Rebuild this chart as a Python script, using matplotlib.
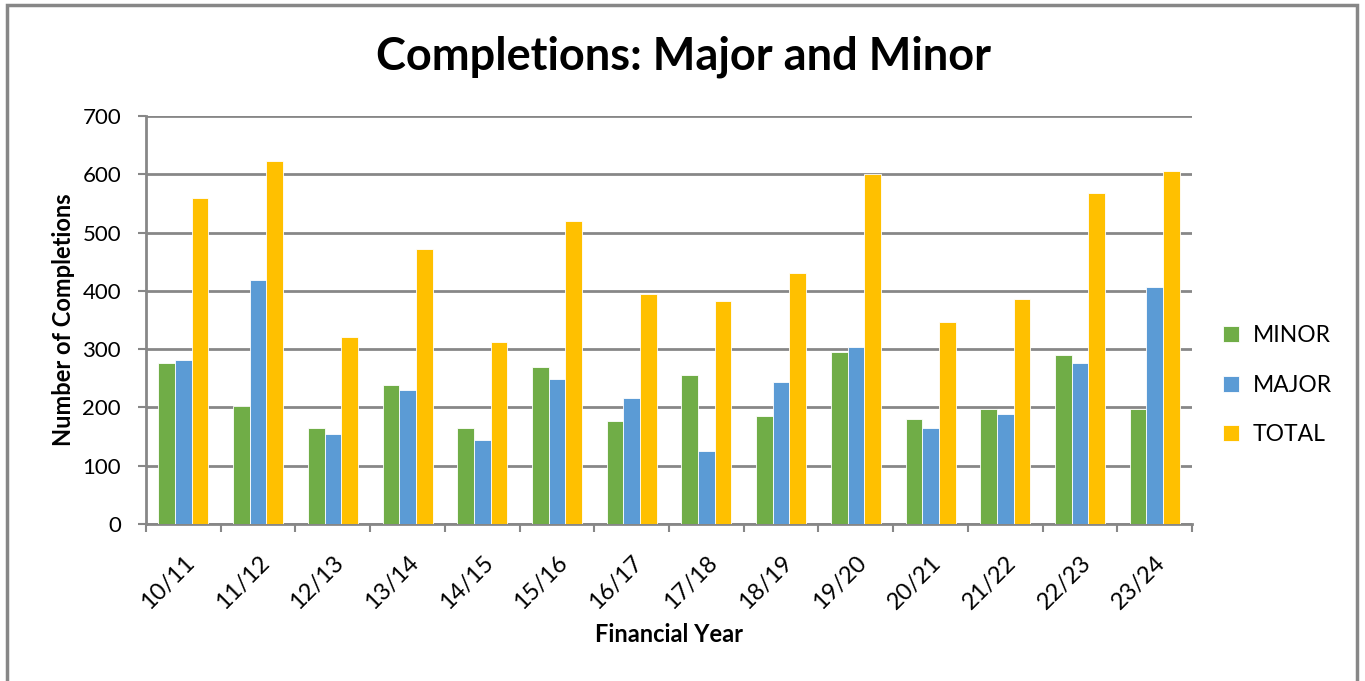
import numpy as np
import matplotlib
matplotlib.use("Agg")
import matplotlib.pyplot as plt
from matplotlib.patches import Rectangle

# Data
years = ["10/11", "11/12", "12/13", "13/14", "14/15", "15/16", "16/17",
         "17/18", "18/19", "19/20", "20/21", "21/22", "22/23", "23/24"]
minor = [277, 203, 165, 239, 165, 269, 177, 256, 186, 295, 180, 197, 290, 197]
major = [281, 419, 155, 230, 145, 249, 216, 126, 244, 303, 165, 189, 277, 407]
total = [559, 623, 321, 471, 313, 519, 394, 383, 431, 600, 346, 386, 568, 605]

series_names = ["MINOR", "MAJOR", "TOTAL"]
colors = ["#70AD47", "#5B9BD5", "#FFC000"]

plt.rcParams['font.family'] = ['Lato', 'DejaVu Sans']
grey = "#878787"

fig = plt.figure(figsize=(13.65, 6.81), dpi=100)
ax = fig.add_axes([0.107, 0.2305, 0.7663, 0.5992])

# Outer chart border
fig.patches.append(Rectangle((0.005, -0.05), 0.989, 1.043, transform=fig.transFigure,
                             fill=False, edgecolor=grey, linewidth=2.5))

x = np.arange(len(years))
w = 0.223
for i, (vals, name, col) in enumerate(zip([minor, major, total], series_names, colors)):
    ax.bar(x + (i - 1) * w, vals, width=w, color=col, edgecolor="white",
           linewidth=0.6, label=name, zorder=3)

ax.set_xlim(-0.5, len(years) - 0.5)
ax.set_ylim(0, 700)
ax.set_yticks(range(0, 701, 100))
ax.yaxis.grid(True, color=grey, linewidth=2, zorder=0)
ax.set_axisbelow(True)

ax.set_xticks(x)
ax.set_xticklabels(years, rotation=45, ha="right", rotation_mode="anchor", fontsize=17)
ax.set_xticks(np.arange(-0.5, len(years), 1), minor=True)
ax.tick_params(axis="x", which="major", length=0, pad=20)
ax.tick_params(axis="x", which="minor", length=6, color=grey, width=1.5)
ax.tick_params(axis="y", length=6, color=grey, width=1.5, labelsize=16, pad=12)

for s in ["top", "right"]:
    ax.spines[s].set_visible(False)
for s in ["left", "bottom"]:
    ax.spines[s].set_color(grey)
    ax.spines[s].set_linewidth(2)

ax.set_ylabel("Number of Completions", fontsize=17, fontweight="bold", labelpad=5)
ax.set_xlabel("Financial Year", fontsize=17, fontweight="bold", labelpad=7)
fig.text(0.501, 0.917, "Completions: Major and Minor", ha="center", va="center",
         fontsize=32.5, fontweight="bold")

ax.legend(loc="center left", bbox_to_anchor=(1.01, 0.34), frameon=False,
          fontsize=16.5, handlelength=0.7, handleheight=0.7, labelspacing=1.25,
          handletextpad=0.6)

fig.savefig("out.png", dpi=100)
